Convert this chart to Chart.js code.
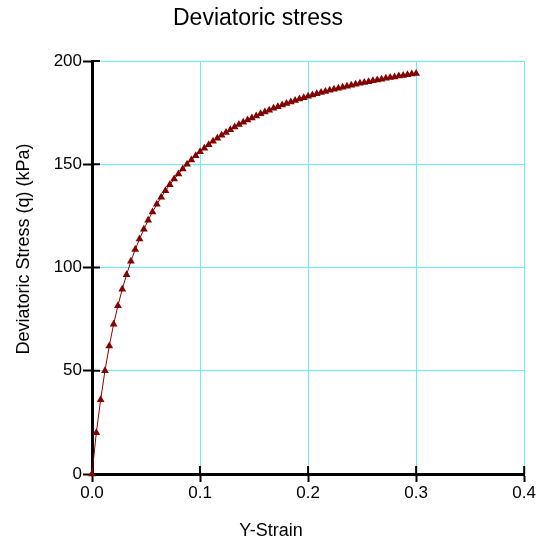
<!DOCTYPE html>
<html>
<head>
<meta charset="utf-8">
<script src="https://cdn.jsdelivr.net/npm/chart.js@4/dist/chart.umd.min.js"></script>
<style>
  body { margin: 0; background: #fff; }
  canvas { display: block; }
</style>
</head>
<body>
<canvas id="stressChart" width="537" height="539"></canvas>
<script>
const chartTitle = 'Deviatoric stress';
const xAxisTitle = 'Y-Strain';
const yAxisTitle = 'Deviatoric Stress (q) (kPa)';

// strain readings (x)
const strain = [
    0, 0.004, 0.008, 0.012, 0.016, 0.020, 0.024, 0.028, 0.032, 0.036,
    0.040, 0.044, 0.048, 0.052, 0.056, 0.060, 0.064, 0.068, 0.072, 0.076,
    0.080, 0.084, 0.088, 0.092, 0.096, 0.100, 0.104, 0.108, 0.112, 0.116,
    0.120, 0.124, 0.128, 0.132, 0.136, 0.140, 0.144, 0.148, 0.152, 0.156,
    0.160, 0.164, 0.168, 0.172, 0.176, 0.180, 0.184, 0.188, 0.192, 0.196,
    0.200, 0.204, 0.208, 0.212, 0.216, 0.220, 0.224, 0.228, 0.232, 0.236,
    0.240, 0.244, 0.248, 0.252, 0.256, 0.260, 0.264, 0.268, 0.272, 0.276,
    0.280, 0.284, 0.288, 0.292, 0.296, 0.300
];

// deviatoric stress q in kPa (y)
const stress = [
    0, 20, 36, 50, 62, 72.5, 81.5, 89.5, 96.5, 103,
    108.7, 113.8, 118.5, 122.9, 126.9, 130.6, 134.0, 137.2, 140.1, 142.8,
    145.3, 147.7, 150.0, 152.1, 154.1, 156.0, 157.8, 159.5, 161.1, 162.6,
    164.0, 165.4, 166.7, 168.0, 169.2, 170.3, 171.4, 172.4, 173.4, 174.4,
    175.3, 176.2, 177.1, 177.9, 178.7, 179.4, 180.2, 180.9, 181.6, 182.2,
    182.9, 183.5, 184.1, 184.7, 185.2, 185.8, 186.3, 186.8, 187.3, 187.8,
    188.3, 188.7, 189.2, 189.6, 190.0, 190.4, 190.8, 191.2, 191.6, 192.0,
    192.3, 192.7, 193.0, 193.4, 193.7, 194.0
];

const xTicks = [0, 0.1, 0.2, 0.3, 0.4];
const yTicks = [0, 50, 100, 150, 200];

const fontFamily = '"Liberation Sans", Arial, sans-serif';
const gridCyan = '#66f2f2';

// tick marks that also poke into the plot area, plus title texts
const axisExtras = {
    id: 'axisExtras',
    beforeDatasetsDraw(chart) {
        const { ctx, chartArea, scales } = chart;
        ctx.save();
        ctx.strokeStyle = '#000';
        ctx.lineWidth = 2;
        scales.x.ticks.forEach(t => {
            const px = scales.x.getPixelForValue(t.value);
            ctx.beginPath();
            ctx.moveTo(px, chartArea.bottom);
            ctx.lineTo(px, chartArea.bottom - 8);
            ctx.stroke();
        });
        scales.y.ticks.forEach(t => {
            const py = scales.y.getPixelForValue(t.value);
            ctx.beginPath();
            ctx.moveTo(chartArea.left, py);
            ctx.lineTo(chartArea.left + 8, py);
            ctx.stroke();
        });
        ctx.restore();
    },
    afterDraw(chart) {
        const ctx = chart.ctx;
        ctx.save();
        ctx.fillStyle = '#000';
        ctx.textAlign = 'center';
        ctx.textBaseline = 'middle';
        ctx.font = '23px ' + fontFamily;
        ctx.fillText(chartTitle, 258, 19);
        ctx.font = '18px ' + fontFamily;
        ctx.fillText(xAxisTitle, 271, 531);
        ctx.translate(24, 249);
        ctx.rotate(-Math.PI / 2);
        ctx.fillText(yAxisTitle, 0, 0);
        ctx.restore();
    }
};

new Chart(document.getElementById('stressChart'), {
    type: 'line',
    data: {
        datasets: [{
            label: 'q',
            data: strain.map((s, i) => ({ x: s, y: stress[i] })),
            borderColor: '#8b0000',
            backgroundColor: '#800000',
            borderWidth: 1,
            pointStyle: 'triangle',
            pointRadius: 4.5,
            pointBorderWidth: 0,
            pointBackgroundColor: '#800000',
            fill: false,
            tension: 0,
            clip: 8
        }]
    },
    options: {
        responsive: false,
        animation: false,
        layout: { padding: { top: 61, right: 12, left: 0, bottom: 0 } },
        plugins: {
            legend: { display: false },
            tooltip: { enabled: false }
        },
        scales: {
            x: {
                type: 'linear',
                min: 0,
                max: 0.4,
                afterFit: scale => { scale.height = 65; },
                afterBuildTicks: scale => { scale.ticks = xTicks.map(v => ({ value: v })); },
                ticks: {
                    color: '#000',
                    padding: 1,
                    font: { family: fontFamily, size: 17 },
                    callback: v => v.toFixed(1)
                },
                grid: {
                    color: gridCyan,
                    lineWidth: 1,
                    tickLength: 8,
                    tickColor: '#000',
                    tickWidth: 2
                },
                border: { color: '#000', width: 3 }
            },
            y: {
                min: 0,
                max: 200,
                afterFit: scale => { scale.width = 92; },
                afterBuildTicks: scale => { scale.ticks = yTicks.map(v => ({ value: v })); },
                ticks: {
                    color: '#000',
                    padding: 1,
                    font: { family: fontFamily, size: 17 }
                },
                grid: {
                    color: gridCyan,
                    lineWidth: 1,
                    tickLength: 9,
                    tickColor: '#000',
                    tickWidth: 2
                },
                border: { color: '#000', width: 3 }
            }
        }
    },
    plugins: [axisExtras]
});
</script>
</body>
</html>
